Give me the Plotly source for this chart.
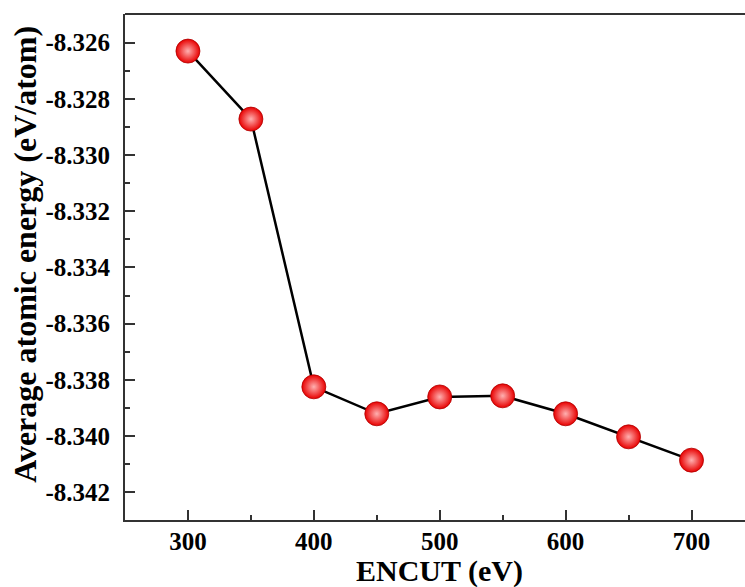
import plotly.graph_objects as go

encut = [300, 350, 400, 450, 500, 550, 600, 650, 700]
energy = [-8.3263, -8.32872, -8.33825, -8.33921, -8.33861, -8.33857, -8.33921, -8.34003, -8.34086]

y_tickvals = [-8.326, -8.328, -8.330, -8.332, -8.334, -8.336, -8.338, -8.340, -8.342]
y_ticktext = ["-8.326", "-8.328", "-8.330", "-8.332", "-8.334", "-8.336", "-8.338", "-8.340", "-8.342"]
x_tickvals = [300, 400, 500, 600, 700]
x_ticktext = ["300", "400", "500", "600", "700"]

FONT = "Liberation Serif, Times New Roman, serif"

fig = go.Figure()
fig.add_trace(go.Scatter(
    x=encut, y=energy, mode="lines+markers",
    line=dict(color="black", width=2.5),
    marker=dict(size=24, color="#e80000",
                gradient=dict(type="radial", color="#ffb0b0"),
                line=dict(width=0.8, color="#b00000")),
    showlegend=False,
))

axis_common = dict(
    showline=True, linecolor="#333333", linewidth=2,
    ticks="inside", ticklen=10, tickwidth=1.5, tickcolor="#333333",
    showgrid=False, zeroline=False, automargin=False,
    tickfont=dict(family=FONT, size=25, color="black", weight="bold"),
)

fig.update_xaxes(
    range=[250, 742.5], tickmode="array", tickvals=x_tickvals, ticktext=x_ticktext,
    minor=dict(ticks="inside", ticklen=5, tickwidth=1.5, tickcolor="#333333", dtick=50, tick0=250),
    ticklabelstandoff=-2,
    **axis_common,
)
fig.update_yaxes(
    range=[-8.34299, -8.32498], tickmode="array", tickvals=y_tickvals, ticktext=y_ticktext,
    minor=dict(ticks="inside", ticklen=5, tickwidth=1.5, tickcolor="#333333", dtick=0.001, tick0=-8.342),
    ticklabelstandoff=8,
    **axis_common,
)

fig.update_layout(
    width=745, height=587,
    margin=dict(l=125, r=0, t=14, b=67),
    plot_bgcolor="white", paper_bgcolor="white",
    font=dict(family=FONT, color="black"),
    shapes=[dict(type="line", xref="paper", yref="paper", x0=0, x1=1, y0=1, y1=1,
                 line=dict(color="#333333", width=2))],
    annotations=[
        dict(text="<b>Average atomic energy (eV/atom)</b>", textangle=-90,
             xref="paper", yref="paper", x=0, y=0.524, xshift=-100,
             xanchor="center", yanchor="middle", showarrow=False,
             font=dict(family=FONT, size=32, color="black")),
        dict(text="<b>ENCUT (eV)</b>",
             xref="paper", yref="paper", x=0.508, y=0, yshift=-32,
             xanchor="center", yanchor="top", showarrow=False,
             font=dict(family=FONT, size=30, color="black")),
    ],
)

fig.write_html("out.html")
